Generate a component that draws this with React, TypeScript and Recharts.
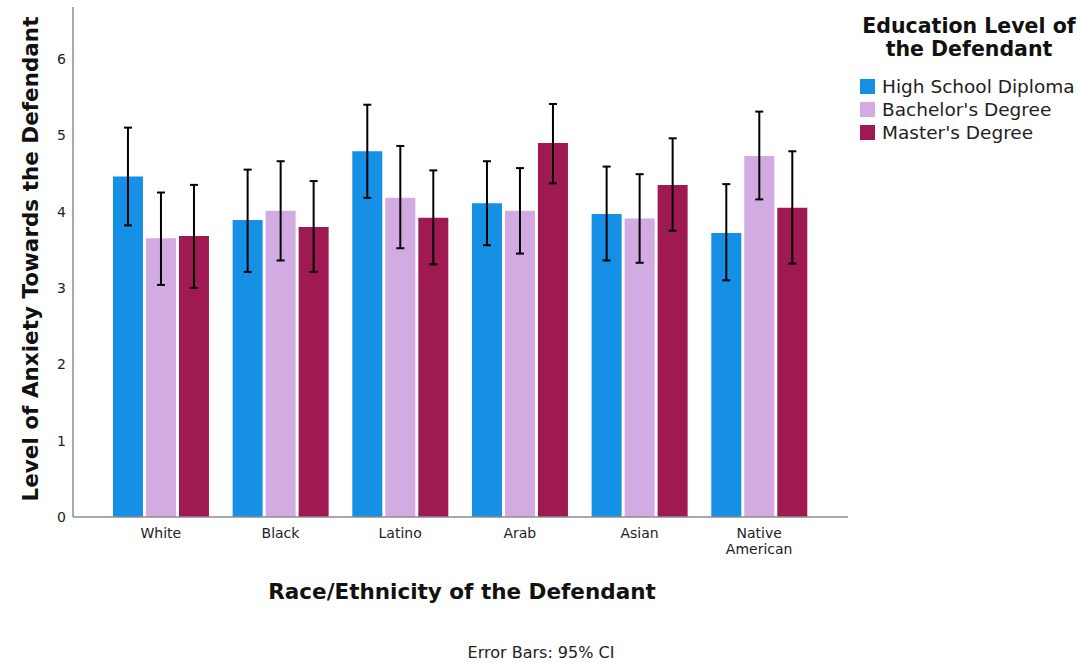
import React from 'react';
import { BarChart, Bar, XAxis, YAxis, ErrorBar } from 'recharts';

const categories = ['White', 'Black', 'Latino', 'Arab', 'Asian', 'Native American'];
const seriesNames = ['High School Diploma', "Bachelor's Degree", "Master's Degree"];
const seriesColors = ['#1690E4', '#D1ABE2', '#9E1A50'];

const highSchool = [4.46, 3.89, 4.79, 4.11, 3.97, 3.72];
const highSchoolLow = [3.82, 3.21, 4.18, 3.56, 3.36, 3.10];
const highSchoolHigh = [5.10, 4.55, 5.40, 4.66, 4.59, 4.36];

const bachelor = [3.65, 4.01, 4.18, 4.01, 3.91, 4.73];
const bachelorLow = [3.04, 3.36, 3.52, 3.45, 3.33, 4.16];
const bachelorHigh = [4.25, 4.66, 4.86, 4.57, 4.49, 5.31];

const master = [3.68, 3.80, 3.92, 4.90, 4.35, 4.05];
const masterLow = [3.00, 3.21, 3.31, 4.37, 3.75, 3.32];
const masterHigh = [4.35, 4.40, 4.54, 5.41, 4.96, 4.79];

const yTicks = [0, 1, 2, 3, 4, 5, 6];

const data = categories.map((c, i) => ({
  name: c,
  hs: highSchool[i],
  hsErr: [highSchool[i] - highSchoolLow[i], highSchoolHigh[i] - highSchool[i]],
  ba: bachelor[i],
  baErr: [bachelor[i] - bachelorLow[i], bachelorHigh[i] - bachelor[i]],
  ma: master[i],
  maErr: [master[i] - masterLow[i], masterHigh[i] - master[i]],
}));

const FONT = '"DejaVu Sans", Verdana, sans-serif';

const XTick = (props: any) => {
  const { x, y, payload } = props;
  const lines = String(payload.value).split(' ');
  return (
    <g>
      {lines.map((l: string, i: number) => (
        <text key={i} x={x} y={y} dy={13 + i * 16} textAnchor="middle" fontSize={14} fill="#222" fontFamily={FONT}>
          {l}
        </text>
      ))}
    </g>
  );
};

const keys = ['hs', 'ba', 'ma'];

export default function App() {
  return (
    <div style={{ position: 'absolute', left: 0, top: 0, width: 1085, height: 663, background: '#fff', fontFamily: FONT }}>
      <BarChart
        width={1085}
        height={663}
        data={data}
        margin={{ top: 7, right: 237, bottom: 106, left: 0 }}
        barCategoryGap="10%"
        barGap={3}
      >
        <XAxis
          dataKey="name"
          height={40}
          padding={{ left: 28, right: 29 }}
          axisLine={{ stroke: '#8c8c8c', strokeWidth: 1.5 }}
          tickLine={false}
          tick={<XTick />}
          interval={0}
        />
        <YAxis
          width={73}
          domain={[0, 6.68]}
          ticks={yTicks}
          allowDataOverflow
          axisLine={{ stroke: '#8c8c8c', strokeWidth: 1.5 }}
          tickLine={false}
          tickSize={4}
          tickMargin={3}
          tick={{ fontSize: 14, fill: '#222', fontFamily: FONT }}
        />
        {keys.map((k, i) => (
          <Bar key={k} dataKey={k} name={seriesNames[i]} fill={seriesColors[i]} isAnimationActive={false}>
            <ErrorBar dataKey={k + 'Err'} width={4} strokeWidth={2} stroke="#000" direction="y" />
          </Bar>
        ))}
      </BarChart>

      <div style={{ position: 'absolute', left: 30, top: 259, transform: 'translate(-50%, -50%) rotate(-90deg)', whiteSpace: 'nowrap', fontSize: 21.5, fontWeight: 'bold', color: '#111' }}>
        Level of Anxiety Towards the Defendant
      </div>
      <div style={{ position: 'absolute', left: 462, top: 591, transform: 'translate(-50%, -50%)', whiteSpace: 'nowrap', fontSize: 21.5, fontWeight: 'bold', color: '#111' }}>
        Race/Ethnicity of the Defendant
      </div>
      <div style={{ position: 'absolute', left: 541, top: 652, transform: 'translate(-50%, -50%)', whiteSpace: 'nowrap', fontSize: 16, color: '#222' }}>
        Error Bars: 95% CI
      </div>

      <div style={{ position: 'absolute', left: 858, top: 15, width: 222 }}>
        <div style={{ textAlign: 'center', fontSize: 20.5, fontWeight: 'bold', lineHeight: '23px', color: '#111' }}>
          Education Level of<br />the Defendant
        </div>
        <div style={{ marginTop: 14 }}>
          {seriesNames.map((n, i) => (
            <div key={n} style={{ display: 'flex', alignItems: 'center', height: 23 }}>
              <div style={{ width: 15, height: 15, background: seriesColors[i], marginLeft: 2, marginRight: 7 }} />
              <span style={{ fontSize: 18.5, color: '#222', whiteSpace: 'nowrap' }}>{n}</span>
            </div>
          ))}
        </div>
      </div>
    </div>
  );
}
